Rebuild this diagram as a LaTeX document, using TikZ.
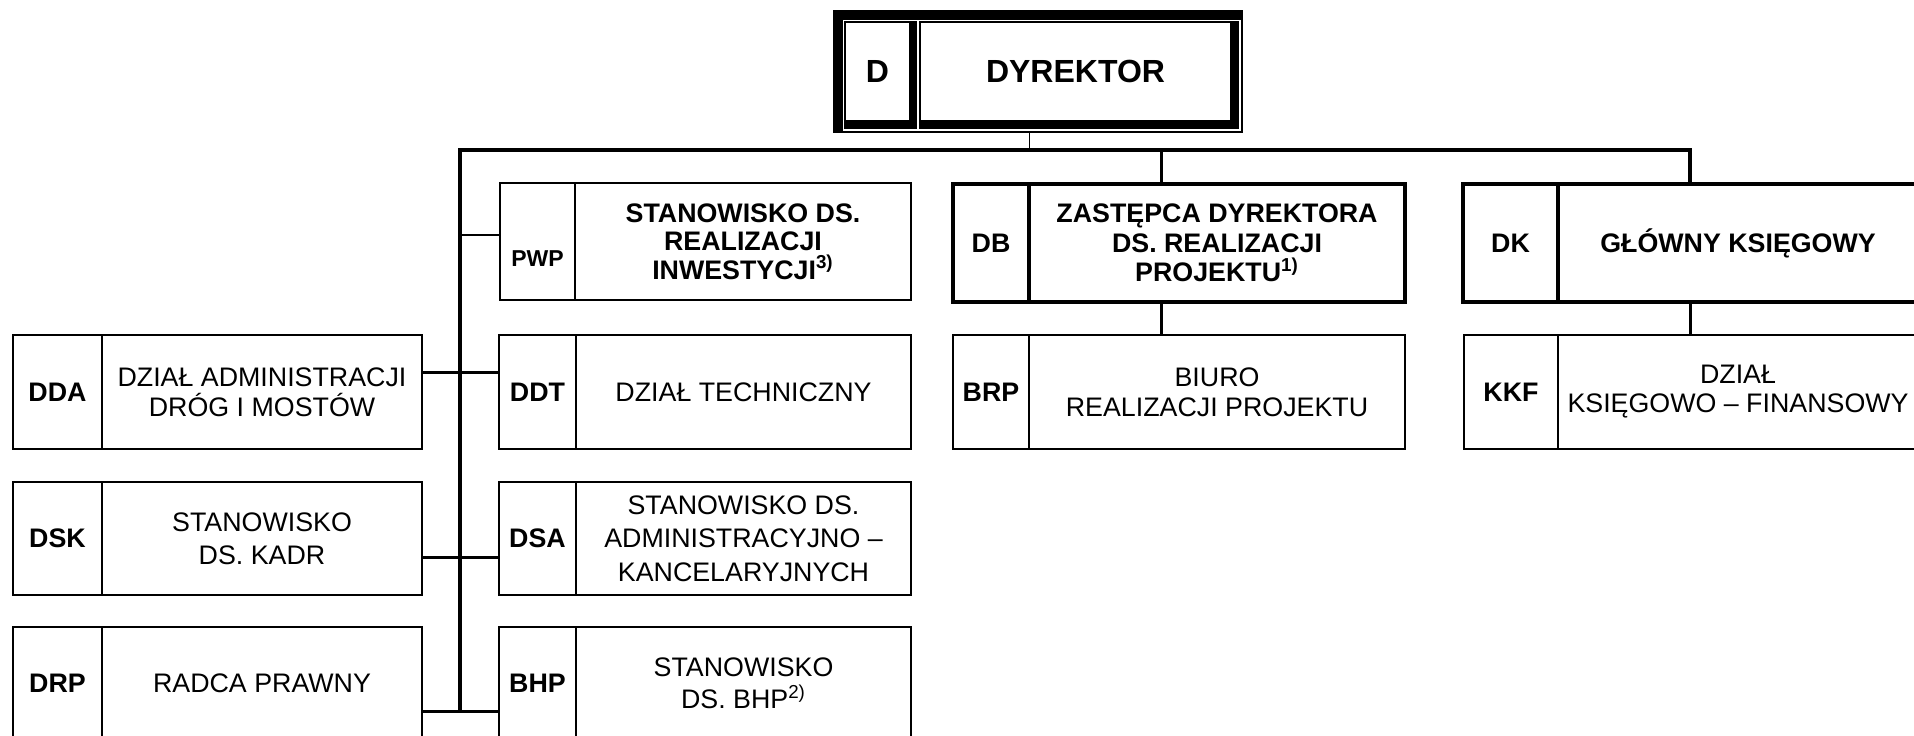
\documentclass[tikz,border=0pt]{standalone}
\usepackage{fontspec}
\setmainfont{Liberation Sans}
\usetikzlibrary{positioning}

\begin{document}
\begin{tikzpicture}[x=0.5pt,y=-0.5pt,
    codecell/.style={draw,line width=1pt,inner sep=0pt,outer sep=0pt,anchor=north west,align=center,font=\bfseries\fontsize{13.4}{15.5}\selectfont},
    namecell/.style={draw,line width=1pt,inner sep=0pt,outer sep=0pt,align=center,font=\fontsize{13.4}{16}\selectfont},
    thinbox/.style={line width=0.65pt},
    headbox/.style={line width=2pt},
    conn/.style={line width=1.5pt}]
  \useasboundingbox (0,0) rectangle (1914,735);
  \clip (0,0) rectangle (1914,735);

  % dyrektor
  \node[fill=black,minimum width=205pt,minimum height=61.5pt,inner sep=0pt,outer sep=0pt,anchor=north west] (dir) at (833,10) {};
  \draw[white,line width=0.75pt] (843.5,20.5) rectangle (1240,130) (918,20.5) -- (918,130);
  \node[fill=white,minimum width=31.5pt,minimum height=48.5pt,inner sep=0pt,font=\bfseries\fontsize{16}{18}\selectfont] (dC) at (877.5,71.5) {D};
  \node[fill=white,minimum width=154.5pt,minimum height=48.5pt,inner sep=0pt,font=\bfseries\fontsize{16}{18}\selectfont] (dN) at (1075.5,71.5) {DYREKTOR};

  % lewa kolumna
  \node[codecell,minimum width=44.5pt,minimum height=57pt] (ddaC) at (13,335) {DDA};
  \node[namecell,minimum width=160pt,minimum height=57pt,right=0pt of ddaC,font=\fontsize{13.4}{15}\selectfont] (ddaN) {DZIAŁ ADMINISTRACJI\\DRÓG I MOSTÓW};
  \node[codecell,thinbox,minimum width=44.5pt,minimum height=56.5pt] (dskC) at (13,482) {DSK};
  \node[namecell,thinbox,minimum width=160pt,minimum height=56.5pt,right=0pt of dskC,font=\fontsize{13.4}{16.5}\selectfont] (dskN) {STANOWISKO\\DS. KADR};
  \node[codecell,thinbox,minimum width=44.5pt,minimum height=56.5pt] (drpC) at (13,627) {DRP};
  \node[namecell,thinbox,minimum width=160pt,minimum height=56.5pt,right=0pt of drpC] (drpN) {RADCA PRAWNY};

  % srodkowa kolumna
  \node[codecell,minimum width=37.5pt,minimum height=58.5pt] (pwpC) at (500,183) {};
  \node[font=\bfseries\fontsize{11.5}{12}\selectfont] (pwpT) at ([yshift=-8.5pt]pwpC.center) {PWP};
  \node[namecell,minimum width=168pt,minimum height=58.5pt,right=0pt of pwpC,font=\bfseries\fontsize{13.4}{14.3}\selectfont] (pwpN) {STANOWISKO DS.\\REALIZACJI\\INWESTYCJI\textsuperscript{3)}};
  \node[codecell,minimum width=38.5pt,minimum height=57pt] (ddtC) at (499,335) {DDT};
  \node[namecell,minimum width=167.5pt,minimum height=57pt,right=0pt of ddtC] (ddtN) {DZIAŁ TECHNICZNY};
  \node[codecell,thinbox,minimum width=38.5pt,minimum height=56.5pt] (dsaC) at (499,482) {DSA};
  \node[namecell,thinbox,minimum width=167.5pt,minimum height=56.5pt,right=0pt of dsaC,font=\fontsize{13.4}{16.8}\selectfont] (dsaN) {STANOWISKO DS.\\ADMINISTRACYJNO –\\KANCELARYJNYCH};
  \node[codecell,thinbox,minimum width=38.5pt,minimum height=56.5pt] (bhpC) at (499,627) {BHP};
  \node[namecell,thinbox,minimum width=167.5pt,minimum height=56.5pt,right=0pt of bhpC] (bhpN) {STANOWISKO\\DS. BHP\textsuperscript{2)}};

  % zastepca i ksiegowy
  \node[codecell,headbox,minimum width=38pt,minimum height=59pt] (dbC) at (953,184) {DB};
  \node[namecell,headbox,minimum width=188pt,minimum height=59pt,right=0pt of dbC,font=\bfseries\fontsize{13.4}{14.7}\selectfont] (dbN) {ZASTĘPCA DYREKTORA\\DS. REALIZACJI\\PROJEKTU\textsuperscript{1)}};
  \node[codecell,minimum width=38pt,minimum height=57pt] (brpC) at (953,335) {BRP};
  \node[namecell,minimum width=188pt,minimum height=57pt,right=0pt of brpC,font=\fontsize{13.4}{15}\selectfont] (brpN) {BIURO\\REALIZACJI PROJEKTU};
  \node[codecell,headbox,minimum width=47.5pt,minimum height=59pt] (dkC) at (1463,184) {DK};
  \node[namecell,headbox,minimum width=180pt,minimum height=59pt,right=0pt of dkC,font=\bfseries\fontsize{13.4}{15}\selectfont] (dkN) {GŁÓWNY KSIĘGOWY};
  \node[codecell,minimum width=47pt,minimum height=57pt] (kkfC) at (1464,335) {KKF};
  \node[namecell,minimum width=180pt,minimum height=57pt,right=0pt of kkfC,font=\fontsize{13.4}{14.5}\selectfont] (kkfN) {DZIAŁ\\KSIĘGOWO – FINANSOWY};

  % polaczenia
  \coordinate (busL) at (460,150);
  \coordinate (busR) at (1690,150);
  \coordinate (dx) at (1029,150);
  \coordinate (dbx) at (1161,150);
  \coordinate (j0) at (460,235);
  \coordinate (j1) at (460,372);
  \coordinate (j2) at (460,557);
  \coordinate (j3) at (460,711);
  \draw[line width=0.5pt] (dir.south -| dx) -- (dx);
  \draw[line width=1.75pt] (dkN.north -| busR) -- (busR) -- (busL) -- (j3);
  \draw[conn] (dbx) -- (dbx |- dbN.north);
  \draw[conn] (dbx |- dbN.south) -- (dbx |- brpN.north);
  \draw[conn] (busR |- dkN.south) -- (busR |- kkfN.north);
  \draw[line width=0.75pt] (j0) -- (pwpC.west |- j0);
  \draw[conn] (ddaN.east |- j1) -- (ddtC.west |- j1);
  \draw[conn] (dskN.east |- j2) -- (dsaC.west |- j2);
  \draw[conn] (drpN.east |- j3) -- (bhpC.west |- j3);
\end{tikzpicture}
\end{document}
